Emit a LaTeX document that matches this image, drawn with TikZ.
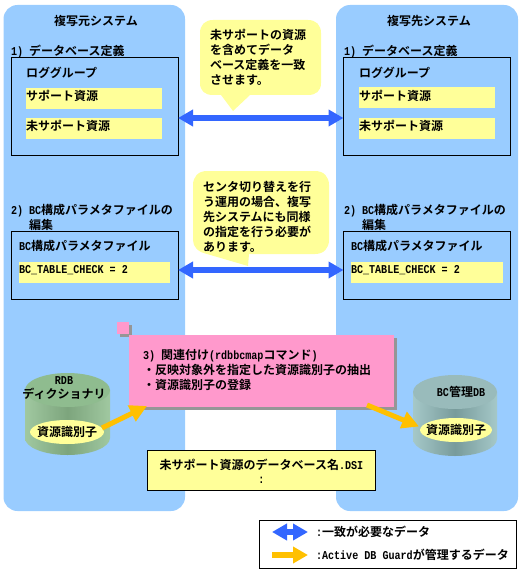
\documentclass[tikz,border=0pt]{standalone}
\usepackage{fontspec}
\usetikzlibrary{arrows.meta,shapes.geometric}
\setmainfont{Noto Sans CJK JP}[BoldFont={Noto Sans CJK JP Bold}]
\newfontfamily\ltn{Liberation Mono}[FakeStretch=0.84,BoldFont={Liberation Mono Bold},BoldFeatures={FakeStretch=0.84}]
\newcommand{\lat}[1]{{\ltn\bfseries #1}}
\definecolor{panelc}{HTML}{99CCFF}
\definecolor{yelc}{HTML}{FFFF99}
\definecolor{pinkc}{HTML}{FF99CC}
\definecolor{orc}{HTML}{FFC000}
\definecolor{bluc}{HTML}{3366FF}
\definecolor{shc}{HTML}{969696}
\tikzset{
  x=1pt,y=-1pt,
  every node/.style={inner sep=0pt,outer sep=0pt},
  txt/.style={anchor=north west,align=left,font=\fontsize{12}{15}\selectfont\bfseries},
  ctxt/.style={anchor=center,align=center,font=\fontsize{12}{14}\selectfont\bfseries},
  panel/.style={fill=panelc,rounded corners=14pt},
  frame/.style={draw=black,line width=0.8pt},
  bar/.style={fill=yelc,anchor=north west},
  blueconn/.style={draw=bluc,line width=5.5pt,{Triangle[length=15pt,width=16pt]}-{Triangle[length=15pt,width=16pt]}},
  oranconn/.style={draw=orc,line width=5pt,-{Triangle[length=17pt,width=17pt]}},
}
\begin{document}
\begin{tikzpicture}
\useasboundingbox (0,0) rectangle (521,575);
% panels
\fill[panel] (3.5,5) rectangle (185,511);
\fill[panel] (336,5) rectangle (518,511);
\node[ctxt] (titleL) at (96,21) {複写元システム};
\node[ctxt] (titleR) at (429,21) {複写先システム};
% section 1
\node[txt] (s1L) at (11,45.5) {\lat{1)}\hspace{6pt}データベース定義};
\node[txt] (s1R) at (344,45.5) {\lat{1)}\hspace{6pt}データベース定義};
\node[frame,anchor=north west,minimum width=166.5pt,minimum height=98pt] (boxaL) at (11.5,57) {};
\node[frame,anchor=north west,minimum width=167pt,minimum height=98pt] (boxaR) at (343.5,57) {};
\node[txt] (lgL) at (26,67) {ロググループ};
\node[txt] (lgR) at (359,67) {ロググループ};
\node[bar,minimum width=136pt,minimum height=21pt] (b1L) at (26,88) {};
\node[bar,minimum width=136pt,minimum height=21pt] (b2L) at (26,118) {};
\node[bar,minimum width=136pt,minimum height=21pt] (b1R) at (359,87) {};
\node[bar,minimum width=136pt,minimum height=21pt] (b2R) at (359,118) {};
\node[txt] (t1L) at (26,90.5) {サポート資源};
\node[txt] (t2L) at (26,120.5) {未サポート資源};
\node[txt] (t1R) at (359,90.5) {サポート資源};
\node[txt] (t2R) at (359,120.5) {未サポート資源};
% section 2
\node[txt] (s2L) at (11,204) {\lat{2)}\hspace{6pt}\lat{BC}構成パラメタファイルの\\\hspace{18pt}編集};
\node[txt] (s2R) at (344,204) {\lat{2)}\hspace{6pt}\lat{BC}構成パラメタファイルの\\\hspace{18pt}編集};
\node[frame,anchor=north west,minimum width=166.5pt,minimum height=68pt] (boxbL) at (11.5,231) {};
\node[frame,anchor=north west,minimum width=167pt,minimum height=68pt] (boxbR) at (343.5,231) {};
\node[txt] (bcL) at (19,240.5) {\lat{BC}構成パラメタファイル};
\node[txt] (bcR) at (351,240.5) {\lat{BC}構成パラメタファイル};
\node[bar,minimum width=151pt,minimum height=21pt] (b3L) at (19,262) {};
\node[bar,minimum width=152pt,minimum height=21pt] (b3R) at (351,262) {};
\node[anchor=west,font=\fontsize{12}{14}\selectfont] (t3L) at (19,270) {\lat{BC\_TABLE\_CHECK = 2}};
\node[anchor=west,font=\fontsize{12}{14}\selectfont] (t3R) at (351,270) {\lat{BC\_TABLE\_CHECK = 2}};
% callouts
\fill[yelc] (213,20) -- (308,20) .. controls (316,20) and (321,25) .. (321,33) -- (321,83) .. controls (321,91) and (316,95) .. (308,95) -- (250,95) -- (233,111) -- (221,95) -- (213,95) .. controls (205,95) and (200,91) .. (200,83) -- (200,33) .. controls (200,25) and (205,20) .. (213,20) -- cycle;
\node[txt] (c1) at (210,29.5) {未サポートの資源\\を含めてデータ\\ベース定義を一致\\させます。};
\fill[yelc] (207,171) -- (315,171) .. controls (324,171) and (329,177) .. (329,185) -- (329,240) .. controls (329,248) and (324,254) .. (315,254) -- (249,254) -- (248,266) -- (207,254) .. controls (198,252) and (193,247) .. (193,240) -- (193,185) .. controls (193,177) and (198,171) .. (207,171) -- cycle;
\node[txt] (c2) at (203,181) {センタ切り替えを行\\う運用の場合、複写\\先システムにも同様\\の指定を行う必要が\\あります。};
% blue connectors
\coordinate (baL) at (boxaL.east|-b2L.north);
\coordinate (baR) at (boxaR.west|-b2L.north);
\draw[blueconn] (baL) -- (baR);
\coordinate (bbL) at (boxbL.east|-t3L);
\coordinate (bbR) at (boxbR.west|-t3L);
\draw[blueconn] (bbL) -- (bbR);
% cylinders
\shade[left color={rgb,255:red,160;green,200;blue,160},right color={rgb,255:red,160;green,200;blue,160},middle color={rgb,255:red,125;green,165;blue,125}] (25,390) -- (25,438) arc[start angle=180,end angle=360,x radius=42.5,y radius=-17] -- (110,390) -- cycle;
\fill[fill={rgb,255:red,143;green,188;blue,143}] (67.5,390) ellipse[x radius=42.5,y radius=17];
\node[fill=yelc,draw=none,shape=ellipse,minimum width=74pt,minimum height=24pt] (idL) at (67,432) {};
\node[ctxt] at (idL) {資源識別子};
\node[ctxt] (rdb) at (64,388) {\lat{RDB}\\ディクショナリ};
\shade[left color={rgb,255:red,165;green,200;blue,200},right color={rgb,255:red,165;green,200;blue,200},middle color={rgb,255:red,120;green,155;blue,155}] (413,392) -- (413,439) arc[start angle=180,end angle=360,x radius=42,y radius=-17] -- (497,392) -- cycle;
\fill[fill={rgb,255:red,153;green,187;blue,187}] (455,392) ellipse[x radius=42,y radius=17];
\node[fill=yelc,shape=ellipse,minimum width=72pt,minimum height=24pt] (idR) at (456,430) {};
\node[ctxt] at (idR) {資源識別子};
\node[ctxt] (bcdb) at (461,392) {\lat{BC}管理\lat{DB}};
% pink note
\fill[shc] (120,325) rectangle (132,337);
\node[anchor=north west,fill=pinkc,minimum width=12pt,minimum height=12pt] (sq) at (117,322) {};
\fill[shc] (132,338) rectangle (397,409.5);
\node[anchor=north west,fill=pinkc,minimum width=265pt,minimum height=71.5pt] (note) at (129,335) {};
\node[txt] (notetxt) at (143,349) {\lat{3)}\hspace{6pt}関連付け\lat{(rdbbcmap}コマンド\lat{)}\\・反映対象外を指定した資源識別子の抽出\\・資源識別子の登録};
% orange connectors
\coordinate (oa) at (147,406);
\coordinate (ob) at (419,426.5);
\coordinate (oc) at (367,405);
\coordinate (od) at (102,428);
\draw[oranconn] (od) -- (oa);
\draw[oranconn] (oc) -- (ob);
% yellow box
\node[frame,fill=yelc,anchor=north west,minimum width=228pt,minimum height=40pt] (dsi) at (147.5,450.5) {};
\node[ctxt] at ([yshift=-1pt]dsi.center) {未サポート資源のデータベース名\lat{.DSI}\\\lat{:}};
% legend
\node[frame,anchor=north west,minimum width=256.5pt,minimum height=48pt] (leg) at (259.5,520) {};
\coordinate (l1) at (272,532);
\coordinate (l2) at (308,532);
\coordinate (l3) at (272,555);
\coordinate (l4) at (308,555);
\draw[blueconn] (l1) -- (l2);
\draw[draw=orc,line width=5.5pt,-{Triangle[length=15pt,width=16pt]}] (l3) -- (l4);
\node[anchor=west,font=\fontsize{12}{14}\selectfont\bfseries] (lg1) at (316,532) {\lat{:}一致が必要なデータ};
\node[anchor=west,font=\fontsize{12}{14}\selectfont\bfseries] (lg2) at (316,555) {\lat{:Active DB Guard}が管理するデータ};
\end{tikzpicture}
\end{document}
